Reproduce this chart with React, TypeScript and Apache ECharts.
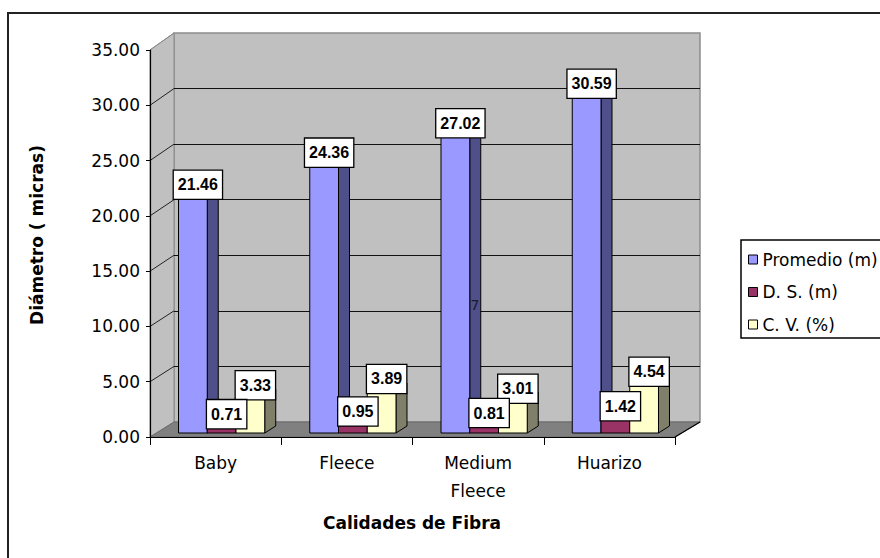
import React, { useEffect, useRef } from "react";
import * as echarts from "echarts";

const categories = ["Baby", "Fleece", "Medium\nFleece", "Huarizo"];
const promedio = [21.46, 24.36, 27.02, 30.59];
const desviacion = [0.71, 0.95, 0.81, 1.42];
const coefVar = [3.33, 3.89, 3.01, 4.54];
const seriesNames = ["Promedio (m)", "D. S. (m)", "C. V. (%)"];
const seriesValues = [promedio, desviacion, coefVar];
const yMin = 0;
const yMax = 35;
const yStep = 5;

const FRONT_C = ["#9999ff", "#993366", "#ffffcc"];
const SIDE_C = ["#4f4f8a", "#5e1f3f", "#80806a"];
const TOP_C = ["#7a7acc", "#7a2952", "#ccccA3"];
const LABEL_Z = [1, 3, 2];

const FRONT = { left: 150, top: 50, width: 525, height: 387 };
const BACK = { left: 174, top: 33, width: 526, height: 389 };
const BARS = { left: 156, top: 46, width: 525, height: 387 };

const AXIS_FONT = "DejaVu Sans";

const makeRender = (k: number) => (params: any, api: any) => {
  const cat = api.value(0);
  const val = api.value(1);
  const base = api.coord([cat, 0]);
  const top = api.coord([cat, val]);
  const band = api.size([1, 0])[0];
  const w = band * 0.219;
  const x0 = base[0] - 1.5 * w + k * w;
  const x1 = x0 + w;
  const yb = base[1];
  const yt = top[1];
  const dx = 11;
  const dy = -7;
  const line = { stroke: "#000", lineWidth: 1 };
  return {
    type: "group",
    children: [
      {
        type: "polygon",
        shape: { points: [[x1, yb], [x1 + dx, yb + dy], [x1 + dx, yt + dy], [x1, yt]] },
        style: { fill: SIDE_C[k], ...line },
      },
      {
        type: "polygon",
        shape: { points: [[x0, yt], [x0 + dx, yt + dy], [x1 + dx, yt + dy], [x1, yt]] },
        style: { fill: TOP_C[k], ...line },
      },
      {
        type: "rect",
        shape: { x: x0, y: yt, width: w, height: yb - yt },
        style: { fill: FRONT_C[k], ...line },
      },
      {
        type: "text",
        z2: 100 + LABEL_Z[k],
        style: {
          text: val.toFixed(2),
          x: (x0 + x1) / 2 + 5,
          y: yt - 11,
          align: "center",
          verticalAlign: "middle",
          fontSize: 16,
          fontWeight: "bold",
          fontFamily: '"Liberation Sans", Arial, sans-serif',
          fill: "#000",
          backgroundColor: "#fff",
          borderColor: "#000",
          borderWidth: 1.3,
          padding: [6, 4, 6, 4],
          lineHeight: 16,
        },
      },
    ],
  };
};

export default function App() {
  const ref = useRef<HTMLDivElement>(null);

  useEffect(() => {
    if (!ref.current) return;
    const chart = echarts.init(ref.current, null, { renderer: "svg" });

    const baseGraphic: any[] = [
      {
        id: "border",
        type: "rect",
        z: -5,
        shape: { x: 8, y: 13, width: 1000, height: 1000 },
        style: { fill: "none", stroke: "#222", lineWidth: 2 },
      },
      {
        id: "sidewall",
        type: "polygon",
        z: -1,
        shape: {
          points: [
            [FRONT.left, FRONT.top],
            [BACK.left, BACK.top],
            [BACK.left, BACK.top + BACK.height],
            [FRONT.left, FRONT.top + FRONT.height],
          ],
        },
        style: { fill: "#c0c0c0", stroke: "#8c8c8c", lineWidth: 1 },
      },
      {
        id: "floor",
        type: "polygon",
        z: -1,
        shape: {
          points: [
            [FRONT.left, FRONT.top + FRONT.height],
            [BACK.left, BACK.top + BACK.height],
            [BACK.left + BACK.width, BACK.top + BACK.height],
            [FRONT.left + FRONT.width, FRONT.top + FRONT.height],
          ],
        },
        style: { fill: "#808080", stroke: "#6a6a6a", lineWidth: 1 },
      },
      {
        id: "flooredge",
        type: "line",
        z: 1,
        shape: {
          x1: FRONT.left + FRONT.width,
          y1: FRONT.top + FRONT.height,
          x2: BACK.left + BACK.width,
          y2: BACK.top + BACK.height,
        },
        style: { stroke: "#000", lineWidth: 1.2 },
      },
      {
        id: "yname",
        type: "text",
        z: 5,
        x: 37,
        y: 235,
        rotation: Math.PI / 2,
        style: {
          text: "Diámetro ( micras)",
          align: "center",
          verticalAlign: "middle",
          fontFamily: AXIS_FONT,
          fontWeight: "bold",
          fontSize: 17,
          fill: "#000",
        },
      },
      {
        id: "xname",
        type: "text",
        z: 5,
        x: 412,
        y: 523,
        style: {
          text: "Calidades de Fibra",
          align: "center",
          verticalAlign: "middle",
          fontFamily: AXIS_FONT,
          fontWeight: "bold",
          fontSize: 17,
          fill: "#000",
        },
      },
      {
        id: "stray7",
        type: "text",
        z: 50,
        x: 475,
        y: 305,
        style: {
          text: "7",
          align: "center",
          verticalAlign: "middle",
          fontFamily: AXIS_FONT,
          fontSize: 14,
          fill: "#1a1a2a",
        },
      },
    ];

    const option: any = {
      animation: false,
      grid: [
        {
          ...BACK,
          show: true,
          backgroundColor: "#c0c0c0",
          borderColor: "#8c8c8c",
          borderWidth: 1.5,
          z: -2,
        },
        { ...FRONT, show: false },
        { ...BARS, show: false },
      ],
      xAxis: [
        { type: "category", gridIndex: 0, data: categories, show: false },
        {
          type: "category",
          gridIndex: 1,
          data: categories,
          axisLine: { show: true, lineStyle: { color: "#000", width: 1.2 } },
          axisTick: { show: true, length: 8, interval: 0, lineStyle: { color: "#000" } },
          axisLabel: {
            interval: 0,
            margin: 12,
            lineHeight: 28,
            fontFamily: AXIS_FONT,
            fontSize: 17,
            color: "#000",
          },
          splitLine: { show: false },
        },
        { type: "category", gridIndex: 2, data: categories, show: false },
      ],
      yAxis: [
        {
          type: "value",
          gridIndex: 0,
          min: yMin,
          max: yMax,
          interval: yStep,
          axisLine: { show: false },
          axisTick: { show: false },
          axisLabel: { show: false },
          splitLine: {
            show: true,
            showMinLine: false,
            showMaxLine: false,
            lineStyle: { color: "#111", width: 1.2 },
          },
        },
        {
          type: "value",
          gridIndex: 1,
          min: yMin,
          max: yMax,
          interval: yStep,
          axisLine: { show: true, lineStyle: { color: "#000", width: 1.2 } },
          axisTick: { show: true, length: 4, lineStyle: { color: "#000" } },
          axisLabel: {
            margin: 10,
            fontFamily: AXIS_FONT,
            fontSize: 17,
            color: "#000",
            formatter: (v: number) => v.toFixed(2),
          },
          splitLine: { show: false },
        },
        {
          type: "value",
          gridIndex: 2,
          min: yMin,
          max: yMax,
          interval: yStep,
          show: false,
          splitLine: { show: false },
        },
      ],
      legend: {
        orient: "vertical",
        left: 741,
        top: 240,
        padding: [11, 40, 5, 7],
        itemGap: 15.5,
        itemWidth: 9,
        itemHeight: 9,
        backgroundColor: "#fff",
        borderColor: "#000",
        borderWidth: 1.5,
        selectedMode: false,
        textStyle: { fontFamily: AXIS_FONT, fontSize: 17, color: "#000", lineHeight: 17 },
        data: seriesNames.map((n, k) => ({
          name: n,
          icon: "rect",
          itemStyle: { color: FRONT_C[k], borderColor: "#000", borderWidth: 1 },
        })),
      },
      series: seriesNames.map((n, k) => ({
        type: "custom",
        name: n,
        xAxisIndex: 2,
        yAxisIndex: 2,
        data: seriesValues[k].map((v, i) => [i, v]),
        encode: { x: 0, y: 1 },
        itemStyle: { color: FRONT_C[k], borderColor: "#000", borderWidth: 1 },
        renderItem: makeRender(k),
        clip: false,
      })),
      graphic: { elements: baseGraphic },
    };

    chart.setOption(option);

    const diag: any[] = [];
    for (let v = yMin + yStep; v <= yMax; v += yStep) {
      const yf = chart.convertToPixel({ yAxisIndex: 1 }, v) as number;
      const yb = chart.convertToPixel({ yAxisIndex: 0 }, v) as number;
      diag.push({
        id: "diag" + v,
        type: "line",
        z: 0,
        shape: { x1: FRONT.left, y1: yf, x2: BACK.left, y2: yb },
        style: { stroke: v === yMax ? "#8c8c8c" : "#222", lineWidth: 1 },
      });
    }
    chart.setOption({ graphic: { elements: [...baseGraphic, ...diag] } });

    return () => chart.dispose();
  }, []);

  return (
    <div
      ref={ref}
      style={{ position: "fixed", left: 0, top: 0, width: 880, height: 558, background: "#fff" }}
    />
  );
}
